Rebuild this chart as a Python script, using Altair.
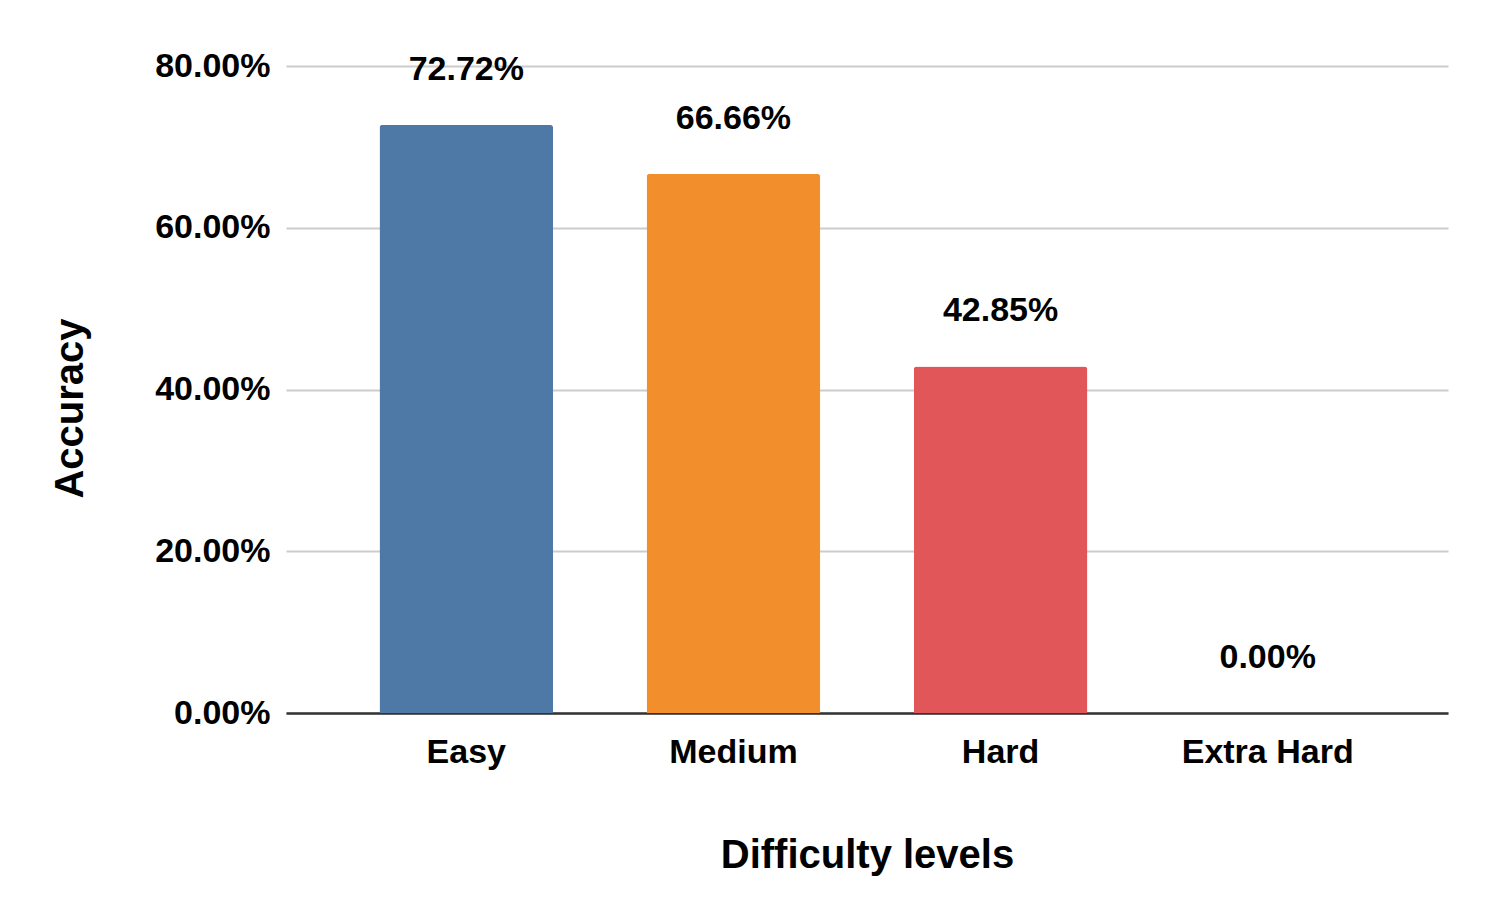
import altair as alt
import pandas as pd

categories = ["Easy", "Medium", "Hard", "Extra Hard"]
accuracy = [0.7272, 0.6666, 0.4285, 0.0]
colors = ["#4E79A7", "#F28E2B", "#E15759", "#76B7B2"]

df = pd.DataFrame({"level": categories, "acc": accuracy})

FONT = "Liberation Sans"

base = alt.Chart(df).encode(
    x=alt.X(
        "level:N",
        sort=categories,
        title="Difficulty levels",
        scale=alt.Scale(paddingInner=0.35, paddingOuter=0.35),
        axis=alt.Axis(
            labelAngle=0,
            labelFont=FONT,
            labelFontSize=34,
            labelFontWeight="bold",
            labelColor="#000000",
            labelPadding=22,
            ticks=False,
            domainColor="#333333",
            domainWidth=2.5,
            titleFont=FONT,
            titleFontSize=40,
            titleFontWeight="bold",
            titleColor="#000000",
            titlePadding=66,
        ),
    ),
)

bars = base.mark_bar(cornerRadiusTopLeft=3, cornerRadiusTopRight=3).encode(
    y=alt.Y(
        "acc:Q",
        title="Accuracy",
        scale=alt.Scale(domain=[0, 0.8], nice=False),
        axis=alt.Axis(
            format=".2%",
            values=[0, 0.2, 0.4, 0.6, 0.8],
            labelFont=FONT,
            labelFontSize=34,
            labelFontWeight="bold",
            labelColor="#000000",
            labelPadding=16,
            ticks=False,
            domain=False,
            gridColor="#cccccc",
            gridWidth=2,
            titleFont=FONT,
            titleFontSize=40,
            titleFontWeight="bold",
            titleColor="#000000",
            titlePadding=64,
            titleY=342,
        ),
    ),
    color=alt.Color(
        "level:N",
        sort=categories,
        scale=alt.Scale(domain=categories, range=colors),
        legend=None,
    ),
)

labels = base.mark_text(
    font=FONT,
    fontSize=34,
    fontWeight="bold",
    color="#000000",
    baseline="alphabetic",
    dy=-45,
).encode(
    y=alt.Y("acc:Q"),
    text=alt.Text("acc:Q", format=".2%"),
)

chart = (
    alt.layer(bars, labels)
    .properties(
        width=1162,
        height=647,
        padding={"left": 42, "top": 41, "right": 5, "bottom": 5},
    )
    .configure_view(stroke=None)
)

chart.save("out.html", embed_options={"renderer": "svg", "actions": False})
